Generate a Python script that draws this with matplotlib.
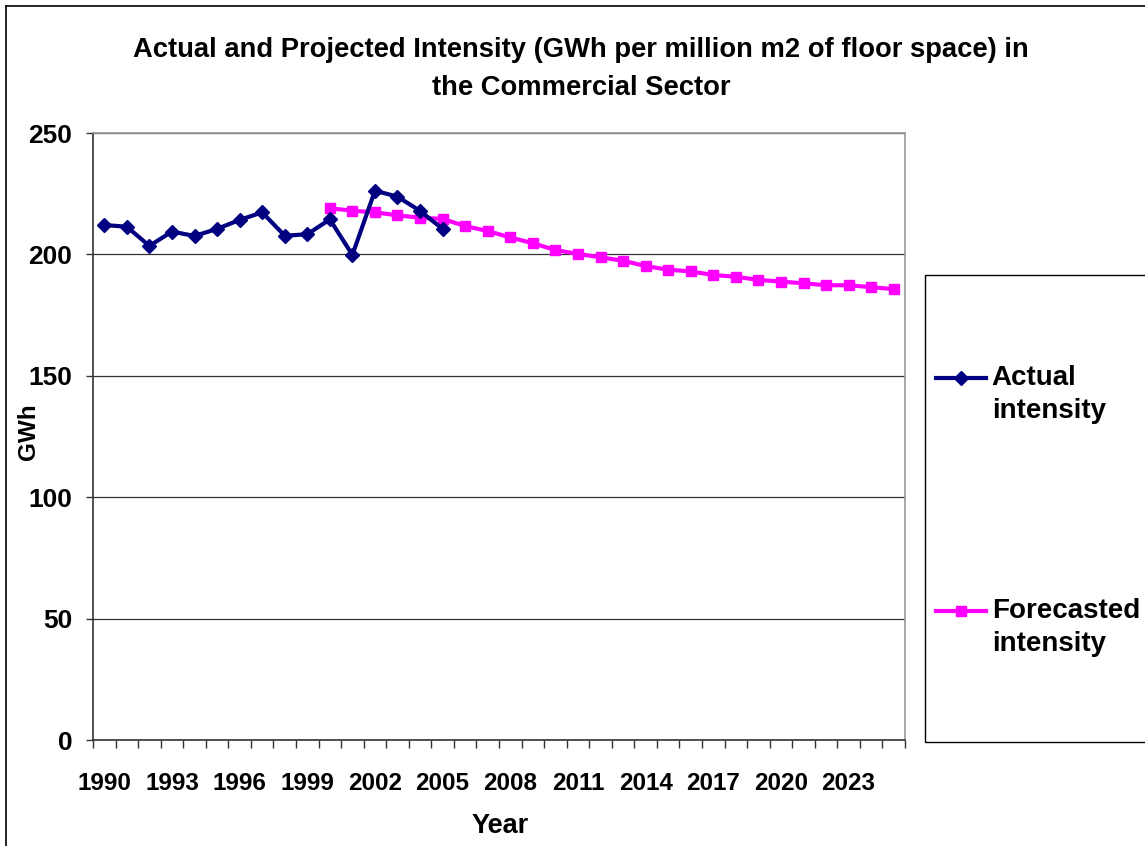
import numpy as np
import matplotlib.pyplot as plt
from matplotlib.lines import Line2D
from matplotlib.patches import Rectangle

plt.rcParams['font.family'] = ['Liberation Sans', 'DejaVu Sans']
plt.rcParams['font.weight'] = 'bold'

years = list(range(1990, 2026))

actual_years = list(range(1990, 2006))
actual = [212.1, 211.4, 203.5, 209.4, 207.6, 210.5, 214.2, 217.3,
          207.7, 208.3, 214.4, 199.8, 226.2, 223.8, 217.9, 210.5]

forecast_years = list(range(2000, 2026))
forecast = [219.0, 218.0, 217.3, 216.1, 215.1, 214.6, 211.7, 209.6,
            207.0, 204.6, 201.8, 200.2, 198.8, 197.4, 195.2, 193.7,
            193.0, 191.5, 190.8, 189.5, 188.8, 188.1, 187.3, 187.3,
            186.5, 185.7]

W, H = 1145, 846
fig = plt.figure(figsize=(W / 100, H / 100), dpi=100)
ax = fig.add_axes([93 / W, 1 - 740 / H, (905 - 93) / W, (740 - 133) / H])

xa = [years.index(y) for y in actual_years]
xf = [years.index(y) for y in forecast_years]

ax.plot(xa, actual, color='#000080', lw=3, marker='D', ms=7,
        label='Actual\nintensity', zorder=3)
ax.plot(xf, forecast, color='#FF00FF', lw=3, marker='s', ms=7.5,
        label='Forecasted\nintensity', zorder=2)

ax.set_xlim(-0.5, len(years) - 0.5)
ax.set_ylim(0, 250)
ax.set_yticks(np.arange(0, 251, 50))
ax.yaxis.grid(True, color='#333333', lw=0.9)
ax.set_axisbelow(True)

ax.set_xticks(range(0, len(years), 3))
ax.set_xticklabels([str(y) for y in years[::3]])
ax.set_xticks(np.arange(-0.5, len(years), 1), minor=True)
ax.tick_params(axis='x', which='major', length=0, pad=23, labelsize=17.5)
ax.tick_params(axis='x', which='minor', length=6, width=1, color='#333333')
ax.tick_params(axis='y', length=5, width=1, color='#333333', labelsize=19, pad=10)

for s in ['left', 'bottom']:
    ax.spines[s].set_color('#333333')
    ax.spines[s].set_linewidth(1.2)
for s in ['top', 'right']:
    ax.spines[s].set_color('#999999')
    ax.spines[s].set_linewidth(1.2)

ax.set_xlabel('Year', fontsize=19.5, fontweight='bold')
ax.xaxis.set_label_coords((500 - 93) / 812, -(826 - 740) / 607)
ax.xaxis.label.set_va('center')
ax.set_ylabel('GWh', fontsize=17.5, fontweight='bold')
ax.yaxis.set_label_coords((28 - 93) / 812, (740 - 432) / 607)
ax.yaxis.label.set_va('center')

fig.text(581 / W, 1 - 50 / H, 'Actual and Projected Intensity (GWh per million m2 of floor space) in',
         ha='center', va='center', fontsize=19.7, fontweight='bold')
fig.text(581 / W, 1 - 88 / H, 'the Commercial Sector',
         ha='center', va='center', fontsize=19.7, fontweight='bold')

# legend box and chart border
fig.add_artist(Rectangle((925 / W, 1 - 742 / H), 0.5, (742 - 275) / H,
                         transform=fig.transFigure, fill=False,
                         edgecolor='black', lw=1))
fig.add_artist(Line2D([6 / W, 6 / W], [-0.1, 1 - 6 / H], transform=fig.transFigure,
                      color='black', lw=1.2))
fig.add_artist(Line2D([6 / W, 1.1], [1 - 6 / H, 1 - 6 / H], transform=fig.transFigure,
                      color='black', lw=1.2))

leg = ax.legend(loc='center left', bbox_to_anchor=(925 / W, 1 - 511 / H),
                bbox_transform=fig.transFigure, frameon=False, borderaxespad=0,
                borderpad=0.4, handlelength=1.8, handletextpad=0.2,
                labelspacing=6.25, prop={'size': 20, 'weight': 'bold'})
for t in leg.get_texts():
    t.set_linespacing(1.35)
# put the legend line next to the first text line
for h in leg.legend_handles:
    h.set_ydata(np.asarray(h.get_ydata()) + 12)

fig.savefig('out.png', dpi=100)
